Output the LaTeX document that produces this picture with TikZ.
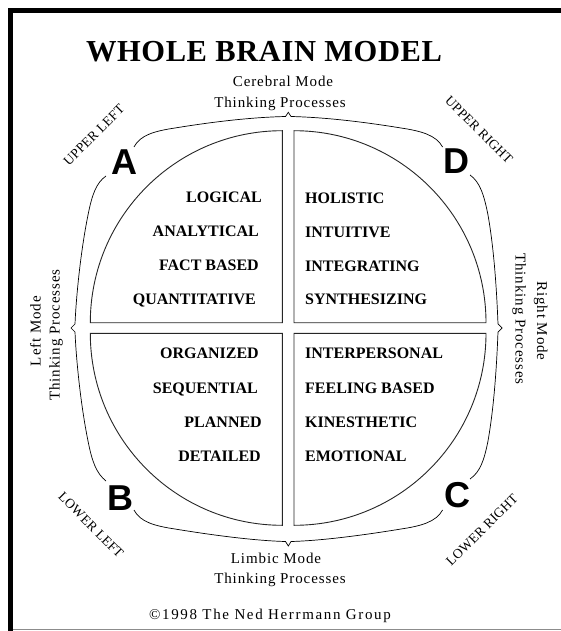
\documentclass[tikz,border=0pt]{standalone}
\usepackage{fontspec}
\setmainfont{Liberation Serif}
\newfontfamily\lettfont{Liberation Sans}
\tikzset{
  quad/.style={draw=black!85, line width=0.9pt},
  brace/.style={draw=black, line width=0.7pt},
  word/.style={font=\bfseries\fontsize{16}{16}\selectfont, inner sep=0pt},
  bigletter/.style={font=\lettfont\bfseries\fontsize{36}{36}\selectfont, inner sep=0pt},
  corner/.style={font=\fontsize{13.5}{13.5}\selectfont\addfontfeatures{LetterSpace=2}, inner sep=0pt},
  modetext/.style={font=\fontsize{15}{15}\selectfont\addfontfeatures{LetterSpace=6}, inner sep=0pt, anchor=base},
}
\begin{document}
\begin{tikzpicture}[x=1pt,y=-1pt]
\useasboundingbox (0,0) rectangle (561,631);
% frame
\fill[black] (8,8) rectangle (561,13.3);
\fill[black] (8,8) rectangle (13,631);
\draw[black!45, line width=1.2pt] (13,629.5) -- (561,629.5);
% title
\node[anchor=base, inner sep=0pt, font=\bfseries\fontsize{30.5}{30.5}\selectfont\addfontfeatures{LetterSpace=2}] (title) at (264,61.7) {WHOLE BRAIN MODEL};
% quadrants
\path[quad] (282.3,322.7) -- (90.3,322.7) arc[start angle=180,end angle=270,radius=192] -- cycle;
\path[quad] (294,322.7) -- (294,130.7) arc[start angle=270,end angle=360,radius=192] -- cycle;
\path[quad] (282.3,333.3) -- (282.3,525.3) arc[start angle=90,end angle=180,radius=192] -- cycle;
\path[quad] (294,333.3) -- (486,333.3) arc[start angle=0,end angle=90,radius=192] -- cycle;
% braces
\path[brace] (134,147) .. controls (140,135) and (155,131) .. (175,128)
  .. controls (230,119) and (265,117) .. (285.5,116.5) -- (288.3,112.3) -- (291,116.5)
  .. controls (311,117) and (346,119) .. (401,128)
  .. controls (421,131) and (436,135) .. (442.6,147);
\path[brace] (134,510) .. controls (140,522) and (155,526) .. (175,529)
  .. controls (230,538) and (265,541) .. (285.5,541.5) -- (288.3,546) -- (291,541.5)
  .. controls (311,541) and (346,538) .. (401,529)
  .. controls (421,526) and (436,522) .. (442.6,510);
\path[brace] (106,176) .. controls (96,183) and (92,195) .. (88,215)
  .. controls (80,255) and (76,300) .. (75,324) -- (71,328) -- (75,332)
  .. controls (76,356) and (80,401) .. (88,441)
  .. controls (92,461) and (96,473) .. (106,481);
\path[brace] (470,175) .. controls (480,182) and (484,195) .. (488,215)
  .. controls (495,255) and (497,300) .. (498,324) -- (502,328) -- (498,332)
  .. controls (497,356) and (495,401) .. (488,441)
  .. controls (484,461) and (480,472) .. (470,479);
% big letters
\node[bigletter] (A) at (124,162) {A};
\node[bigletter] (D) at (456.5,161) {D};
\node[bigletter] (B) at (120,498) {B};
\node[bigletter] (C) at (457.5,495) {C};
% corner labels
\node[corner, rotate=45] (ul) at (94,135) {UPPER LEFT};
\node[corner, rotate=-45] (ur) at (479,130) {UPPER RIGHT};
\node[corner, rotate=-45] (ll) at (91,525) {LOWER LEFT};
\node[corner, rotate=45] (lr) at (482,530) {LOWER RIGHT};
% quadrant words
\node[word, anchor=base east] (w1) at (262,202.5) {LOGICAL};
\node[word, anchor=base east] (w2) at (259,236.5) {ANALYTICAL};
\node[word, anchor=base east] (w3) at (259,270) {FACT BASED};
\node[word, anchor=base east] (w4) at (256,304) {QUANTITATIVE};
\node[word, anchor=base west] (w5) at (305,203) {HOLISTIC};
\node[word, anchor=base west] (w6) at (305,237) {INTUITIVE};
\node[word, anchor=base west] (w7) at (305,271) {INTEGRATING};
\node[word, anchor=base west] (w8) at (305,304.5) {SYNTHESIZING};
\node[word, anchor=base east] (w9) at (259,358.6) {ORGANIZED};
\node[word, anchor=base east] (w10) at (258,393.6) {SEQUENTIAL};
\node[word, anchor=base east] (w11) at (262,427.6) {PLANNED};
\node[word, anchor=base east] (w12) at (261,461.3) {DETAILED};
\node[word, anchor=base west] (w13) at (305,358.6) {INTERPERSONAL};
\node[word, anchor=base west] (w14) at (305,393.6) {FEELING BASED};
\node[word, anchor=base west] (w15) at (305,427.6) {KINESTHETIC};
\node[word, anchor=base west] (w16) at (305,461.3) {EMOTIONAL};
% mode texts
\node[modetext] (t1) at (283,87) {Cerebral Mode};
\node[modetext] (t2) at (280,108) {Thinking Processes};
\node[modetext] (b1) at (276,563) {Limbic Mode};
\node[modetext] (b2) at (280,583) {Thinking Processes};
\node[modetext, rotate=90] (l1) at (40.5,331) {Left Mode};
\node[modetext, rotate=90] (l2) at (59.5,335) {Thinking Processes};
\node[modetext, rotate=-90] (r1) at (537,321) {Right Mode};
\node[modetext, rotate=-90] (r2) at (515.5,319) {Thinking Processes};
\node[anchor=base, inner sep=0pt, font=\fontsize{15}{15}\selectfont\addfontfeatures{LetterSpace=11}] (copy) at (270,619.5) {©1998 The Ned Herrmann Group};
\end{tikzpicture}
\end{document}
